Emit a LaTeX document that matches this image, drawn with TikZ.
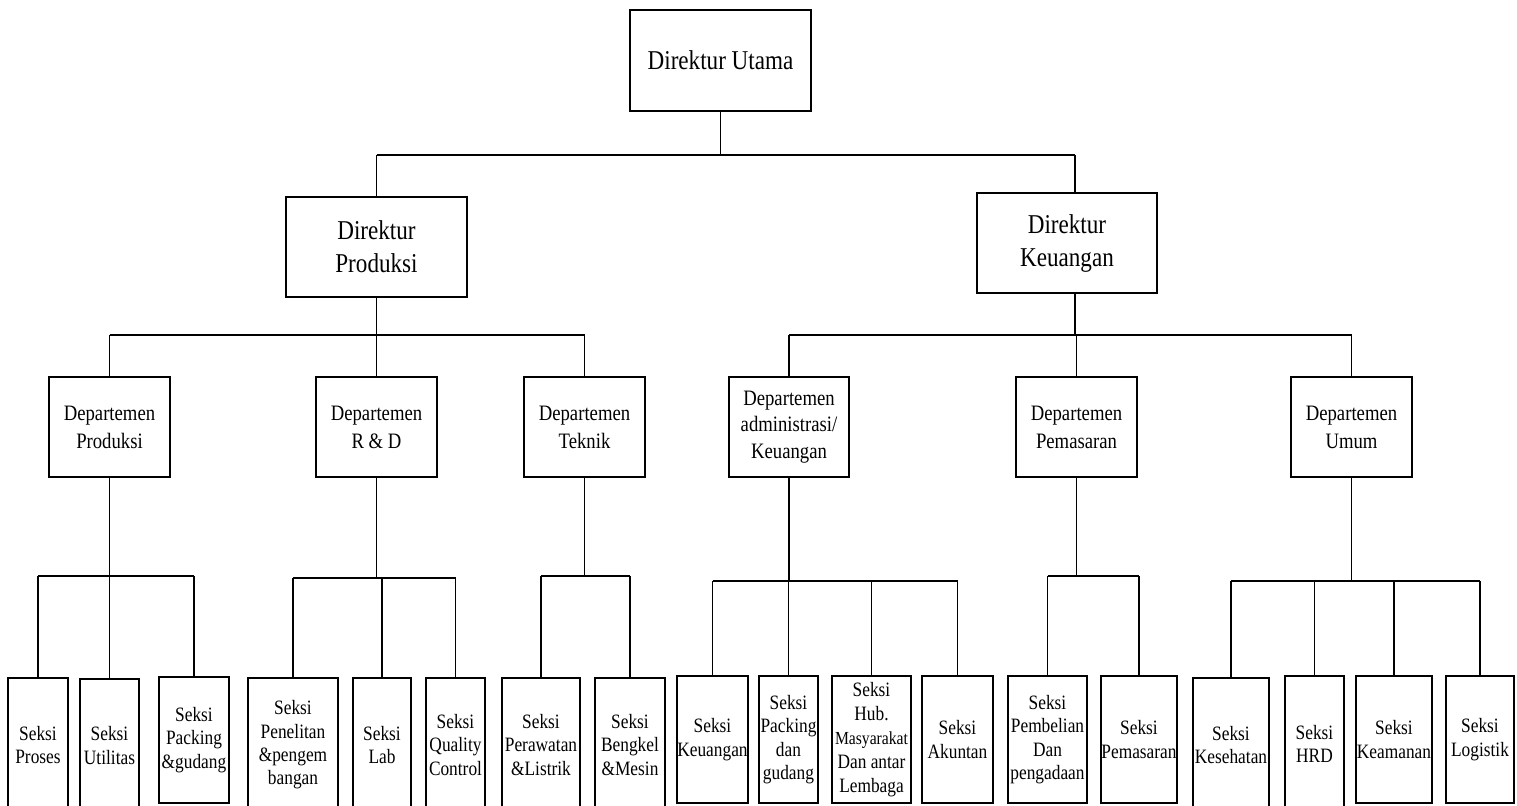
\documentclass[tikz,border=0pt]{standalone}
\usepackage{fontspec}
\setmainfont[FakeStretch=0.85]{Liberation Serif}
\begin{document}
\begin{tikzpicture}[x=0.5pt,y=-0.5pt,
  box/.style={draw,line width=0.9pt,inner sep=0pt,align=center},
  dirf/.style={font=\fontsize{13.6pt}{16.5pt}\selectfont},
  depf/.style={font=\fontsize{11pt}{14pt}\selectfont},
  sekf/.style={font=\fontsize{10.2pt}{11.7pt}\selectfont},
  conn/.style={line width=0.9pt}]
\useasboundingbox (0,0) rectangle (1517,805);
\newcommand\orgbox[7]{\node[box,#7,minimum width={(#3-#2)*0.5pt},minimum height={(#5-#4)*0.5pt}] (#1) at ({(#2+#3)/2},{(#4+#5)/2}) {#6};}
% directors
\orgbox{du}{630}{811}{10}{111}{Direktur Utama}{dirf}
\orgbox{dp}{286}{467}{197}{297}{Direktur\\Produksi}{dirf}
\orgbox{dk}{977}{1157}{193}{293}{Direktur\\Keuangan}{dirf}
% departments
\orgbox{d1}{49}{170}{377}{477}{Departemen\\Produksi}{depf}
\orgbox{d2}{316}{437}{377}{477}{Departemen\\R \& D}{depf}
\orgbox{d3}{524}{645}{377}{477}{Departemen\\Teknik}{depf}
\orgbox{d4}{729}{849}{377}{477}{Departemen\\administrasi/\\Keuangan}{font=\fontsize{11pt}{13.3pt}\selectfont}
\orgbox{d5}{1016}{1137}{377}{477}{Departemen\\Pemasaran}{depf}
\orgbox{d6}{1291}{1412}{377}{477}{Departemen\\Umum}{depf}
% sections
\orgbox{s1}{8}{68}{678}{812}{Seksi\\Proses}{sekf}
\orgbox{s2}{80}{139}{679}{812}{Seksi\\Utilitas}{sekf}
\orgbox{s3}{159}{229}{677}{803}{Seksi\\Packing\\\&gudang}{sekf}
\orgbox{s4}{248}{338}{678}{812}{Seksi\\Penelitan\\\&pengem\\bangan}{sekf}
\orgbox{s5}{353}{411}{678}{812}{Seksi\\Lab}{sekf}
\orgbox{s6}{426}{485}{678}{812}{Seksi\\Quality\\Control}{sekf}
\orgbox{s7}{502}{580}{678}{812}{Seksi\\Perawatan\\\&Listrik}{sekf}
\orgbox{s8}{595}{665}{678}{812}{Seksi\\Bengkel\\\&Mesin}{sekf}
\orgbox{s9}{677}{748}{676}{803}{Seksi\\Keuangan}{sekf}
\orgbox{s10}{759}{818}{676}{803}{Seksi\\Packing\\dan\\gudang}{sekf}
\orgbox{s11}{832}{911}{676}{803}{Seksi\\Hub.\\{\fontsize{9.2pt}{11.7pt}\selectfont Masyarakat}\\Dan antar\\Lembaga}{font=\fontsize{10.2pt}{12pt}\selectfont}
\orgbox{s12}{922}{993}{676}{803}{Seksi\\Akuntan}{sekf}
\orgbox{s13}{1008}{1087}{676}{803}{Seksi\\Pembelian\\Dan\\pengadaan}{sekf}
\orgbox{s14}{1101}{1177}{676}{803}{Seksi\\Pemasaran}{sekf}
\orgbox{s15}{1193}{1269}{678}{812}{Seksi\\Kesehatan}{sekf}
\orgbox{s16}{1285}{1344}{676}{812}{Seksi\\HRD}{sekf}
\orgbox{s17}{1356}{1432}{676}{803}{Seksi\\Keamanan}{sekf}
\orgbox{s18}{1446}{1514}{676}{803}{Seksi\\Logistik}{sekf}
% bus coordinates
\coordinate (b0) at (0,155);
\coordinate (b1) at (0,335);
\coordinate (bp) at (0,576);
\coordinate (bq) at (0,578);
\coordinate (br) at (0,581);
\coordinate (dkx) at ([xshift=4pt]dk.south);
\coordinate (dkn) at ([xshift=4pt]dk.north);
% top level
\draw[conn] (du.south) -- (du.south |- b0);
\draw[conn] (dp.north |- b0) -- (dkn |- b0);
\draw[conn] (dp.north |- b0) -- (dp.north);
\draw[conn] (dkn |- b0) -- (dkn);
% produksi departments
\draw[conn] (dp.south) -- (dp.south |- b1);
\draw[conn] (d1.north |- b1) -- (d3.north |- b1);
\foreach \n in {d1,d2,d3} \draw[conn] (\n.north |- b1) -- (\n.north);
% keuangan departments
\draw[conn] (dkx) -- (dkx |- b1);
\draw[conn] (d4.north |- b1) -- (d6.north |- b1);
\foreach \n in {d4,d5,d6} \draw[conn] (\n.north |- b1) -- (\n.north);
% sections
\newcommand\bus[4]{%
  \draw[conn] (#1.south) -- (#1.south |- #2);
  \draw[conn] (#3.north |- #2) -- (#4.north |- #2);}
\bus{d1}{bp}{s1}{s3}
\foreach \n in {s1,s2,s3} \draw[conn] (\n.north |- bp) -- (\n.north);
\bus{d2}{bq}{s4}{s6}
\foreach \n in {s4,s5,s6} \draw[conn] (\n.north |- bq) -- (\n.north);
\bus{d3}{bp}{s7}{s8}
\foreach \n in {s7,s8} \draw[conn] (\n.north |- bp) -- (\n.north);
\bus{d4}{br}{s9}{s12}
\foreach \n in {s9,s10,s11,s12} \draw[conn] (\n.north |- br) -- (\n.north);
\bus{d5}{bp}{s13}{s14}
\foreach \n in {s13,s14} \draw[conn] (\n.north |- bp) -- (\n.north);
\bus{d6}{br}{s15}{s18}
\foreach \n in {s15,s16,s17,s18} \draw[conn] (\n.north |- br) -- (\n.north);
\end{tikzpicture}
\end{document}
